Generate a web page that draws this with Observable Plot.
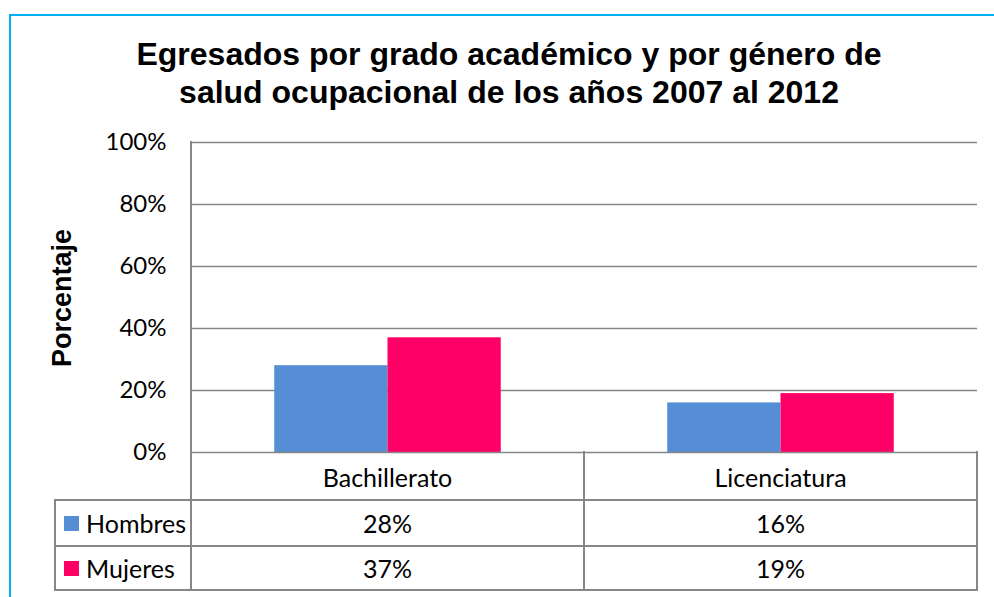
<!DOCTYPE html>
<html>
<head>
<meta charset="utf-8">
<script src="https://cdn.jsdelivr.net/npm/d3@7"></script>
<script src="https://cdn.jsdelivr.net/npm/@observablehq/plot@0.6"></script>
<style>
  html, body { margin: 0; padding: 0; background: #fff; }
  #wrap { position: relative; width: 994px; height: 597px; overflow: hidden; background: #fff; }
  #border { position: absolute; left: 9px; top: 14px; width: 1100px; height: 700px; border-left: 2px solid #00b0f0; border-top: 2px solid #00b0f0; box-sizing: border-box; }
  #title { position: absolute; left: 9px; width: 1000px; top: 35px; text-align: center; font-family: "Liberation Sans", Arial, sans-serif; font-weight: bold; font-size: 32px; line-height: 38px; color: #000; }
  #ytitle { position: absolute; left: 62px; top: 298px; transform: translate(-50%, -50%) rotate(-90deg); font-family: "Liberation Sans", Arial, sans-serif; font-weight: bold; font-size: 27px; white-space: nowrap; }
  #chart { position: absolute; left: 0; top: 0; }
  .ln { position: absolute; background: #868686; }
  .tx { position: absolute; font-family: Lato, "Open Sans", sans-serif; font-size: 25px; color: #000; transform: translate(-50%, -50%); white-space: nowrap; }
  .lg { position: absolute; font-family: Lato, "Open Sans", sans-serif; font-size: 25px; color: #000; transform: translateY(-50%); white-space: nowrap; }
  .sw { position: absolute; width: 15px; height: 15px; }
</style>
</head>
<body>
<div id="wrap">
  <div id="border"></div>
  <div id="title">Egresados por grado académico y por género de<br>salud ocupacional de los años 2007 al 2012</div>
  <div id="ytitle">Porcentaje</div>
  <div id="chart"></div>
</div>
<script>
const categories = ["Bachillerato", "Licenciatura"];
const series = ["Hombres", "Mujeres"];
const hombres = [0.28, 0.16];
const mujeres = [0.37, 0.19];
const yTicks = [0, 0.2, 0.4, 0.6, 0.8, 1];
const colors = ["#558ed5", "#ff0066"];

const values = { Hombres: hombres, Mujeres: mujeres };
const data = categories.flatMap((c, i) => series.map(s => ({ category: c, series: s, value: values[s][i] })));
const fmt = d3.format(".0%");

const chart = Plot.plot({
  width: 994,
  height: 597,
  marginLeft: 191,
  marginRight: 17,
  marginTop: 142,
  marginBottom: 145,
  style: { fontFamily: "Lato, 'Open Sans', sans-serif", background: "transparent", overflow: "visible" },
  fx: { domain: categories, padding: 0, axis: null, round: false },
  x: { domain: series, paddingInner: 0, paddingOuter: 0.735, axis: null, round: false },
  y: { domain: [0, 1], ticks: yTicks },
  color: { domain: series, range: colors },
  marks: [
    Plot.ruleY(yTicks.filter(d => d > 0), { stroke: "#868686", strokeWidth: 1.6, strokeOpacity: 1 }),
    Plot.barY(data, { fx: "category", x: "series", y: "value", fill: "series" }),
    Plot.ruleY([0], { stroke: "#868686", strokeWidth: 1.6, strokeOpacity: 1 }),
    Plot.axisY(yTicks, { tickFormat: fmt, tickSize: 0, tickPadding: 25, fontSize: 24, label: null, fill: "#000" })
  ]
});
const wrap = document.getElementById("wrap");
document.getElementById("chart").appendChild(chart);

const fx = chart.scale("fx");
const y = chart.scale("y");
const bw = fx.bandwidth;
const x0 = fx.apply(categories[0]);
const x1 = fx.apply(categories[categories.length - 1]) + bw;
const y0 = y.apply(0), yTop = y.apply(1);
const rowTops = [y0, 500, 546, 590];
const labelLeft = 55;

function line(l, t, w, h) {
  const d = document.createElement("div");
  d.className = "ln";
  Object.assign(d.style, { left: l + "px", top: t + "px", width: w + "px", height: h + "px" });
  wrap.appendChild(d);
}
function text(cls, str, l, t) {
  const d = document.createElement("div");
  d.className = cls;
  d.textContent = str;
  Object.assign(d.style, { left: l + "px", top: t + "px" });
  wrap.appendChild(d);
  return d;
}
// value axis line
line(x0 - 1, yTop - 1, 2, rowTops[3] - yTop + 2);
// horizontal table lines
line(labelLeft, rowTops[1] - 1, x1 - labelLeft + 1, 2);
line(labelLeft, rowTops[2] - 1, x1 - labelLeft + 1, 2);
line(labelLeft, rowTops[3] - 1, x1 - labelLeft + 1, 2);
// vertical table lines
categories.forEach(c => line(fx.apply(c) + bw - 1, y0 - 1, 2, rowTops[3] - y0 + 2));
line(labelLeft - 1, rowTops[1] - 1, 2, rowTops[3] - rowTops[1] + 2);

// category row
categories.forEach(c => text("tx", c, fx.apply(c) + bw / 2, (rowTops[0] + rowTops[1]) / 2 + 1));
// data rows
series.forEach((s, r) => {
  const cy = (rowTops[r + 1] + rowTops[r + 2]) / 2;
  const sw = document.createElement("div");
  sw.className = "sw";
  Object.assign(sw.style, { left: "64px", top: (cy - 7) + "px", background: colors[r] });
  wrap.appendChild(sw);
  text("lg", s, 86, cy);
  categories.forEach((c, i) => text("tx", fmt(values[s][i]), fx.apply(c) + bw / 2, cy));
});
</script>
</body>
</html>
